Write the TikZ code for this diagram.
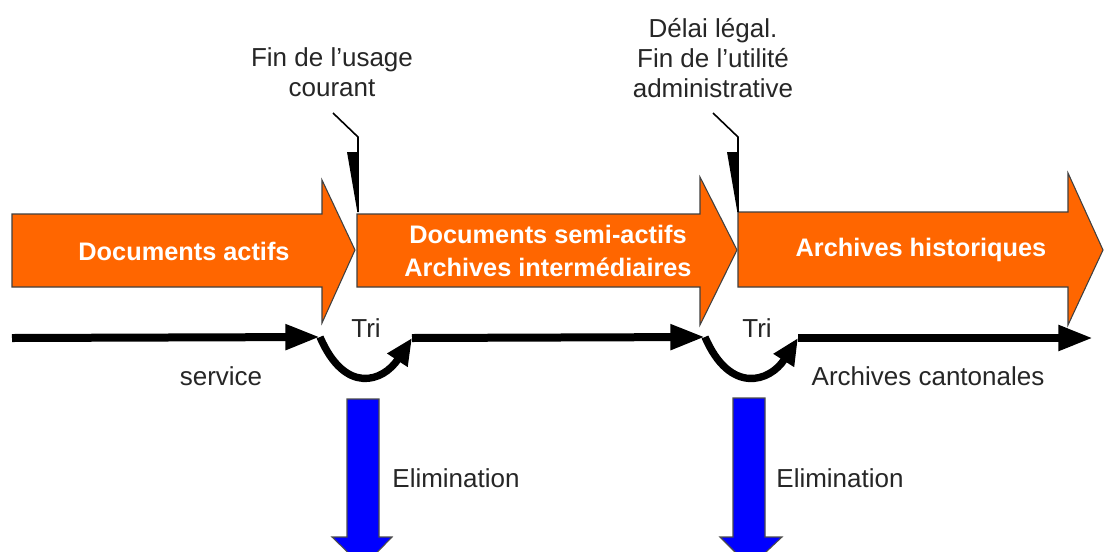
\documentclass[tikz,border=0pt]{standalone}
\usepackage{fontspec}
\setmainfont{Liberation Sans}
\usetikzlibrary{arrows.meta}
\definecolor{phaseorange}{RGB}{255,102,0}
\definecolor{elimblue}{RGB}{0,0,255}
\tikzset{
    phase/.style={fill=phaseorange, draw=black!75, line width=0.8pt},
    phasetext/.style={text=white, font=\fontsize{19}{25}\selectfont\bfseries, align=center},
    note/.style={text=black!85, font=\fontsize{19.5}{22.5}\selectfont, align=center},
    flow/.style={line width=6pt, -{Triangle[length=26pt,width=18pt]}},
    sorting/.style={line width=5.5pt, -{Triangle[length=20pt,width=17pt]}},
    elim/.style={fill=elimblue, draw=black!70, line width=0.8pt},
    pointer/.style={line width=1.2pt}
}
\begin{document}
\begin{tikzpicture}[x=0.75pt, y=-0.75pt]
                \path[clip] (0,0) rectangle (1104,551);
                \fill[white] (0,0) rectangle (1104,551);

                % phases
                \draw[phase] (12,214) -- (322,214) -- (322,180) -- (355,250) -- (322,323) -- (322,287) -- (12,287) -- cycle;
                \draw[phase] (357,214) -- (700,214) -- (700,177) -- (737,250) -- (700,325) -- (700,287) -- (357,287) -- cycle;
                \draw[phase] (738,212) -- (1068,212) -- (1068,173) -- (1103,250) -- (1068,325) -- (1068,287) -- (738,287) -- cycle;

                \begin{scope}[every node/.style={phasetext}]
                    \node (actifs) at (184,251) {Documents actifs};
                    \node (semi) at (548,251) {Documents semi-actifs\\Archives interm\'ediaires};
                    \node (histo) at (921,250) {Archives historiques};
                \end{scope}

                % callouts
                \begin{scope}[every node/.style={note}]
                    \node (usage) at (332,72) {Fin de l’usage\\courant};
                    \node (delai) at (713,58) {D\'elai l\'egal.\\Fin de l’utilit\'e\\administrative};
                    \node (tri1) at (366,328) {Tri};
                    \node (tri2) at (757,328) {Tri};
                    \node (service) at (221,376) {service};
                    \node (canton) at (928,376) {Archives cantonales};
                    \node (elim1) at (456,478) {Elimination};
                    \node (elim2) at (840,478) {Elimination};
                \end{scope}

                \draw[pointer] (333,113) -- (358,137) -- (358,212);
                \fill (347,152) -- (358,152) -- (357,210) -- cycle;
                \draw[pointer] (713,113) -- (738,137) -- (738,212);
                \fill (727,152) -- (738,152) -- (737,210) -- cycle;

                % timeline
                \coordinate (s0) at (12,338);
                \coordinate (s1) at (320,337);
                \coordinate (s2) at (412,338);
                \coordinate (s3) at (705,337);
                \coordinate (s4) at (798,338);
                \coordinate (s5) at (1093,338);

                \draw[flow] (s0) -- (s1);
                \draw[sorting] (s1) .. controls (345,395) and (383,382) .. (s2);
                \draw[flow] (s2) -- (s3);
                \draw[sorting] (s3) .. controls (730,395) and (770,382) .. (s4);
                \draw[flow] (s4) -- (s5);

                % elimination
                \draw[elim] (347,399) -- (379,399) -- (379,537) -- (392,537) -- (363,567) -- (332,537) -- (347,537) -- cycle;
                \draw[elim] (733,398) -- (765,398) -- (765,537) -- (782,537) -- (750,567) -- (720,537) -- (733,537) -- cycle;
            \end{tikzpicture}
\end{document}
